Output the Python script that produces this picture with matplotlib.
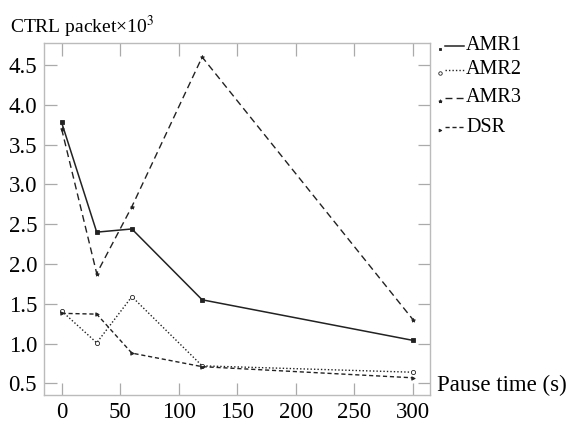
import matplotlib.pyplot as plt
from matplotlib.lines import Line2D

plt.rcParams['font.family'] = ['Liberation Serif', 'DejaVu Serif']
plt.rcParams['mathtext.fontset'] = 'stix'

# Data
pause = [0, 30, 60, 120, 300]
amr1 = [3.78, 2.40, 2.44, 1.55, 1.04]
amr2 = [1.41, 1.01, 1.59, 0.72, 0.64]
amr3 = [3.70, 1.88, 2.72, 4.60, 1.30]
dsr = [1.38, 1.37, 0.88, 0.71, 0.57]

xticks = [0, 50, 100, 150, 200, 250, 300]
yticks = [0.5, 1.0, 1.5, 2.0, 2.5, 3.0, 3.5, 4.0, 4.5]

styles = [
    ("AMR1", amr1, "-", "s", 2.3, 1.1),
    ("AMR2", amr2, (0, (1, 1.5)), "o", 3.0, 1.0),
    ("AMR3", amr3, (0, (5, 3)), "*", 3.0, 1.0),
    ("DSR", dsr, (0, (3, 2)), ">", 2.5, 1.0),
]

fig = plt.figure(figsize=(5.67, 4.25), dpi=100)
ax = fig.add_axes([0.0776, 0.0706, 0.6808, 0.8289])

for name, vals, ls, mk, ms, lw in styles:
    ax.plot(pause, vals, color="#222222", linestyle=ls, linewidth=lw,
            marker=mk, markersize=ms, markerfacecolor="#222222" if mk != "o" else "white",
            markeredgecolor="#222222", markeredgewidth=0.6)

ax.set_xlim(-15, 314.5)
ax.set_ylim(0.354, 4.78)
ax.set_xticks(xticks)
ax.set_yticks(yticks)
ax.set_yticklabels([f"{v:.1f}" for v in yticks])
ax.tick_params(direction="in", length=9, color="#aaaaaa", labelsize=16.5,
               top=True, right=True, width=0.9, pad=5)
for s in ax.spines.values():
    s.set_color("#bbbbbb")
    s.set_linewidth(1.0)

fig.text(10 / 567, 1 - 27 / 425, "CTRL packet×10$^3$", fontsize=14,
         va="center", ha="left")
fig.text(437 / 567, 1 - 385 / 425, "Pause time (s)", fontsize=16.5,
         va="center", ha="left")

# Legend drawn beside the axes
rows = [46, 70, 98, 127]
for (name, vals, ls, mk, ms, lw), yp in zip(styles, rows):
    y = 1 - yp / 425
    fig.add_artist(Line2D([440 / 567], [y - 3 / 425], marker=mk, markersize=ms - 0.5,
                          color="#222222", markerfacecolor="white" if mk == "o" else "#222222",
                          markeredgewidth=0.6, linestyle="none"))
    fig.add_artist(Line2D([445 / 567, 464 / 567], [y, y], color="#222222",
                          linestyle=ls, linewidth=lw))
    fig.text(466 / 567, y, name, fontsize=14.5, va="center", ha="left")

plt.savefig("out.png", dpi=100)
plt.close()
